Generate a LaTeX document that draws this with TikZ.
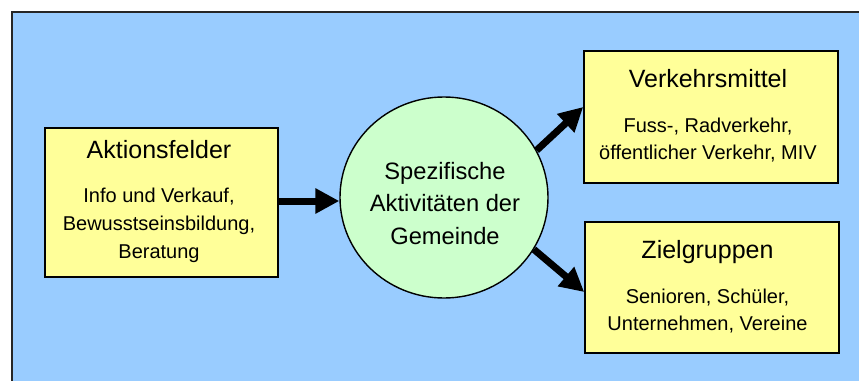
\documentclass[tikz,border=0pt]{standalone}
\usepackage{fontspec}
\setmainfont{Liberation Sans}
\usetikzlibrary{arrows.meta,shapes.geometric}
\definecolor{bgblue}{HTML}{99CCFF}
\definecolor{boxyellow}{HTML}{FFFF99}
\definecolor{circgreen}{HTML}{CCFFCC}
\tikzset{
  box/.style={draw=black, line width=1.6pt, fill=boxyellow, rectangle, inner sep=0pt},
  circ/.style={draw=black, line width=1.4pt, fill=circgreen, ellipse, inner sep=0pt,
               minimum width=208pt, minimum height=201pt},
  titletext/.style={inner sep=0pt, anchor=base, font=\fontsize{25}{30}\selectfont},
  bodytext/.style={inner sep=0pt, anchor=base, font=\fontsize{20}{24}\selectfont},
  circtext/.style={inner sep=0pt, anchor=base, font=\fontsize{23.7}{28}\selectfont},
  arr/.style={line width=7pt, -{Triangle[length=24pt,width=24pt]}}
}
\begin{document}
\begin{tikzpicture}[x=1pt,y=-1pt]
\useasboundingbox (0,0) rectangle (859,380);
\clip (0,0) rectangle (859,380);
\fill[white] (0,0) rectangle (859,380);
\draw[fill=bgblue, draw=black!85, line width=1.5pt] (12,12) rectangle (890,400);

% boxes
\node[box, minimum width=233pt, minimum height=149pt] (akt) at (161.5,202.5) {};
\node[box, minimum width=254pt, minimum height=132pt] (vm) at (711,117) {};
\node[box, minimum width=254pt, minimum height=131pt] (zg) at (712,287.5) {};
\node[circ] (circ) at (444,197.5) {};

% texts: Aktionsfelder
\node[titletext] (aktT) at (159,158) {Aktionsfelder};
\node[bodytext] (aktL1) at (159,202) {Info und Verkauf,};
\node[bodytext] (aktL2) at (159,230) {Bewusstseinsbildung,};
\node[bodytext] (aktL3) at (159,258) {Beratung};

% circle text
\node[circtext] (cL1) at (445,179) {Spezifische};
\node[circtext] (cL2) at (445,211) {Aktivitäten der};
\node[circtext] (cL3) at (445,244) {Gemeinde};

% Verkehrsmittel
\node[titletext] (vmT) at (708,87) {Verkehrsmittel};
\node[bodytext] (vmL1) at (708,132) {Fuss-, Radverkehr,};
\node[bodytext] (vmL2) at (708,159) {öffentlicher Verkehr, MIV};

% Zielgruppen
\node[titletext] (zgT) at (707.5,258) {Zielgruppen};
\node[bodytext] (zgL1) at (707.5,303) {Senioren, Schüler,};
\node[bodytext] (zgL2) at (707.5,330) {Unternehmen, Vereine};

% arrows
\draw[arr] ([yshift=1.5pt]akt.east) -- ([yshift=1.5pt]akt.east -| circ.west);
\draw[arr] (circ.27.6) -- ([yshift=10pt]vm.west);
\draw[arr] (circ.-30.8) -- ([yshift=-4.5pt]zg.west);
\end{tikzpicture}
\end{document}
